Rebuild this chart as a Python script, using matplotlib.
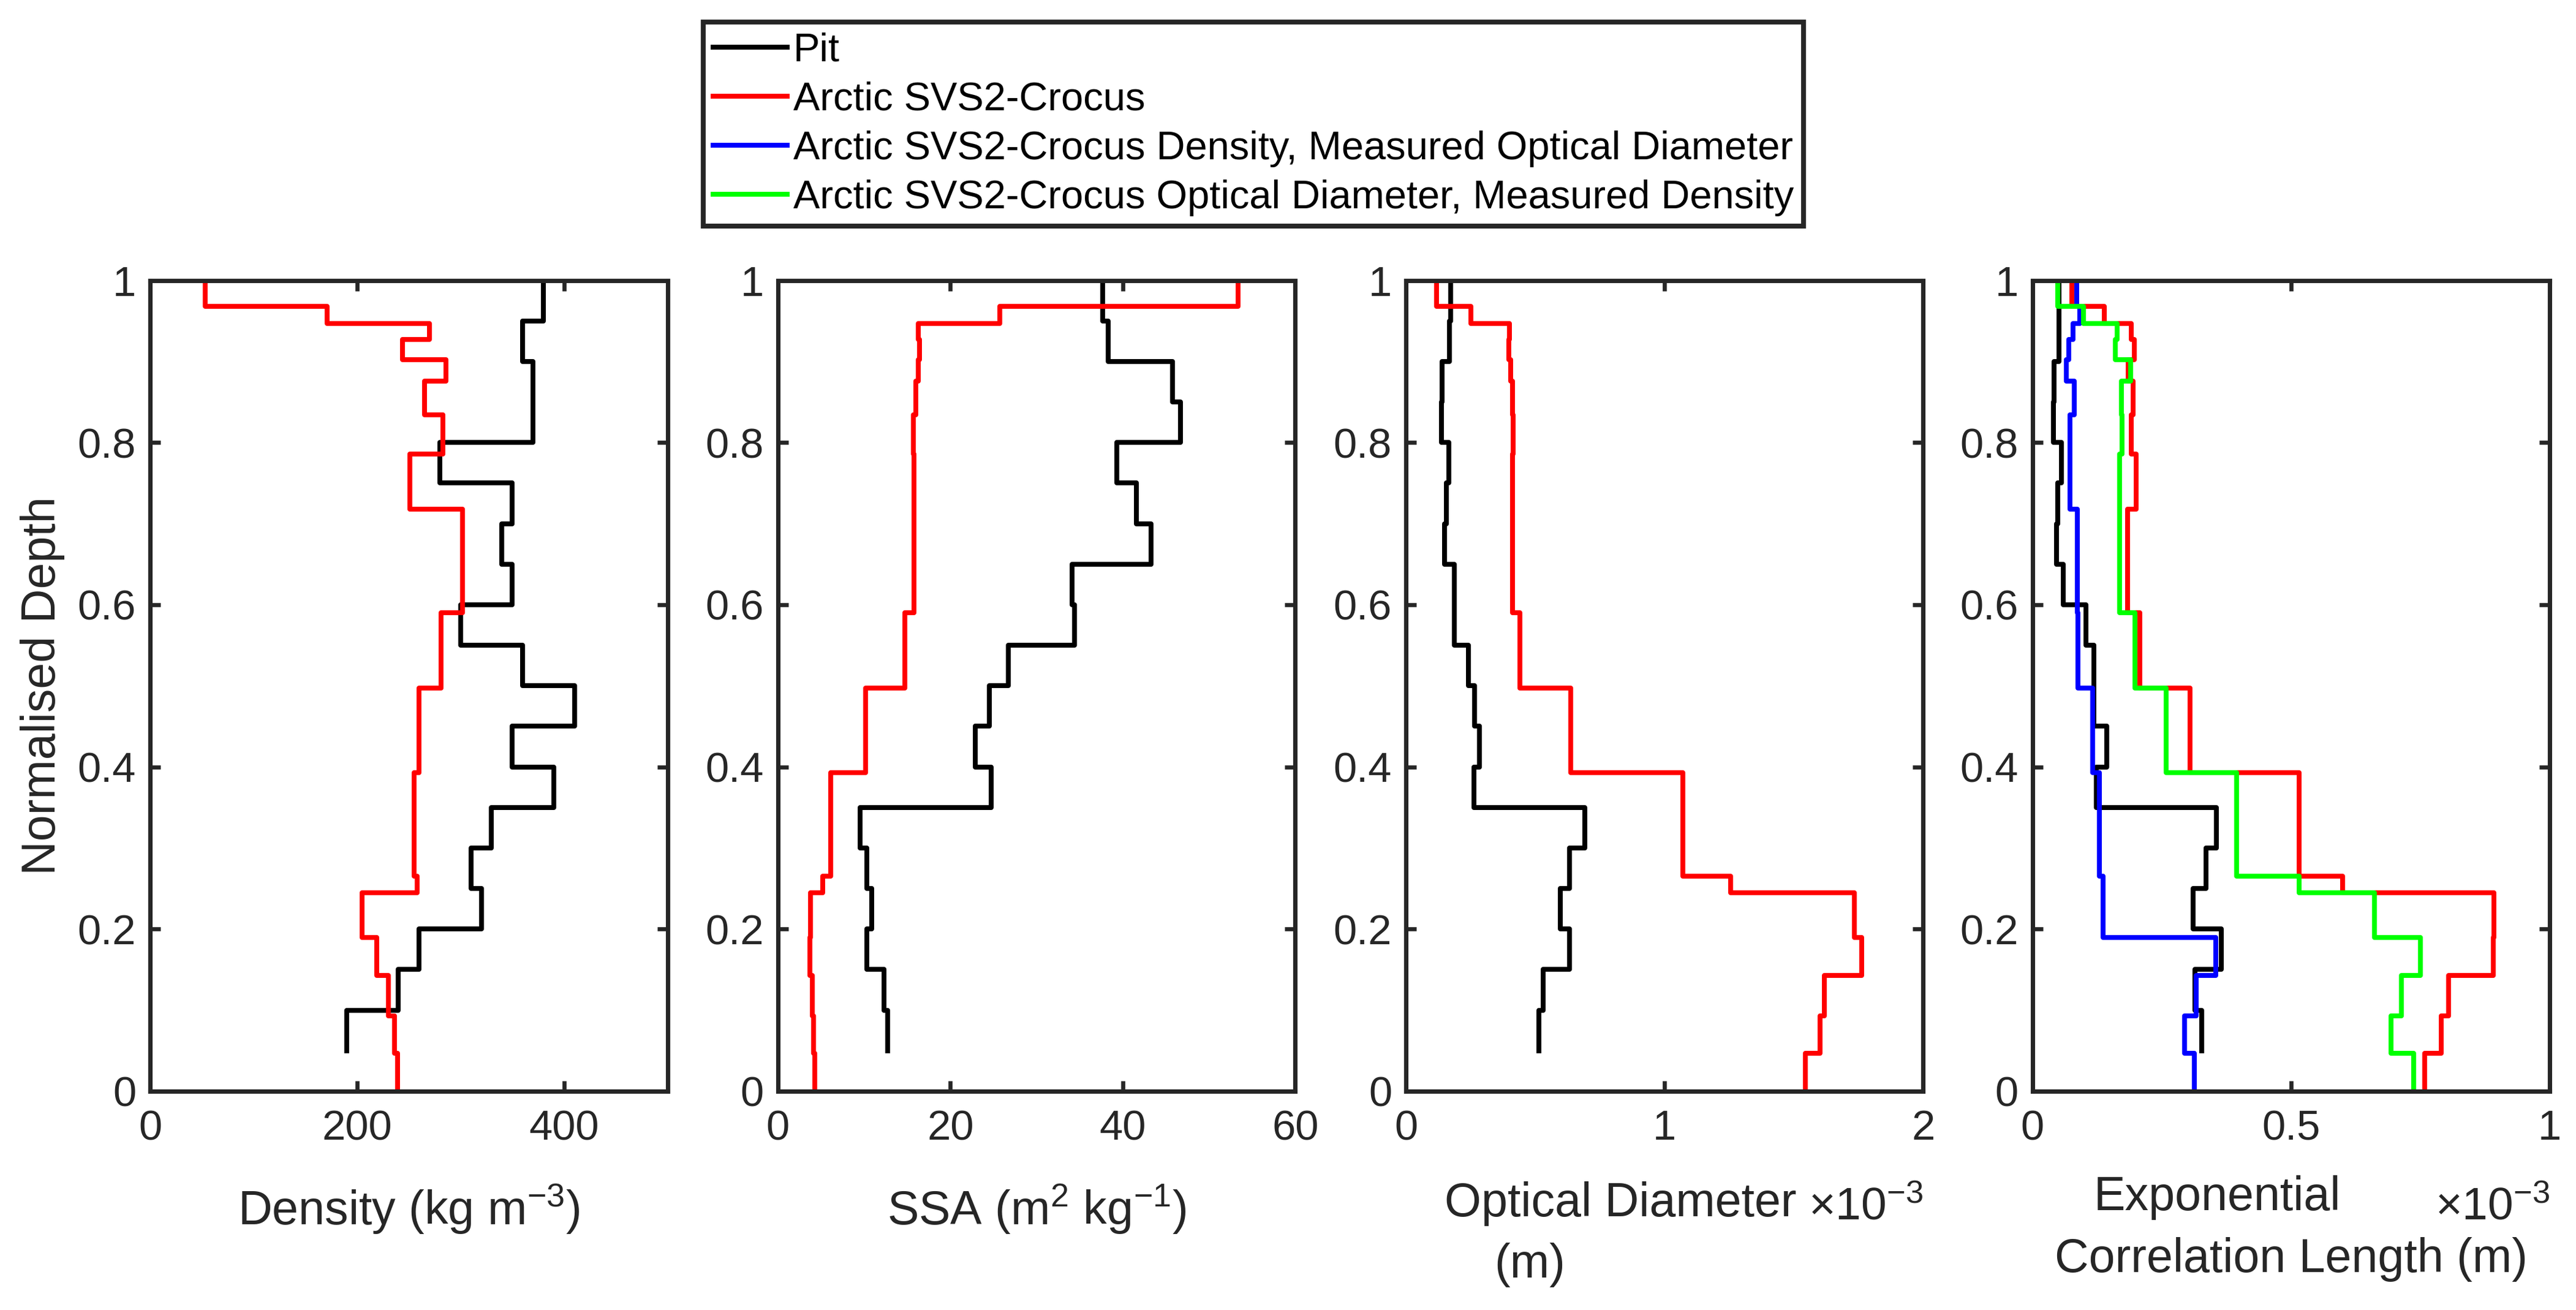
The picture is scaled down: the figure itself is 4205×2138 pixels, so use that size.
import numpy as np
import matplotlib.pyplot as plt
from matplotlib.lines import Line2D
from matplotlib.ticker import FormatStrFormatter

plt.rcParams['font.family'] = ['Liberation Sans', 'DejaVu Sans']
plt.rcParams['mathtext.fontset'] = 'custom'
plt.rcParams['mathtext.rm'] = 'Liberation Sans'
plt.rcParams['mathtext.it'] = 'Liberation Sans:italic'

# pit: boundary depths, first value is the surface point then one per layer
pit_depth = [1.0, 0.95, 0.9, 0.85, 0.8, 0.75, 0.7, 0.65, 0.6, 0.55,
             0.5, 0.45, 0.4, 0.35, 0.3, 0.25, 0.2, 0.15, 0.1, 0.05]
pit_density = [372, 380, 360, 370, 370, 280, 350, 340, 350, 300,
               360, 410, 350, 390, 330, 310, 320, 260, 240, 190]
pit_ssa = [47.8, 37.7, 38.3, 45.8, 46.7, 39.3, 41.6, 43.3, 34.1, 34.4,
           26.7, 24.5, 22.9, 24.7, 9.5, 10.3, 10.9, 10.3, 12.3, 12.7]
pit_dopt = [0.136, 0.172, 0.169, 0.139, 0.137, 0.165, 0.155, 0.148, 0.188, 0.188,
            0.242, 0.265, 0.284, 0.263, 0.692, 0.633, 0.597, 0.633, 0.531, 0.514]
pit_lex = [0.044, 0.051, 0.051, 0.042, 0.040, 0.056, 0.049, 0.047, 0.060, 0.103,
           0.119, 0.119, 0.144, 0.123, 0.356, 0.336, 0.311, 0.365, 0.314, 0.327]

# Arctic SVS2-Crocus: layer boundaries (top to bottom), one value per layer
crocus_depth = [1.0, 0.968, 0.947, 0.927, 0.902, 0.876, 0.834, 0.786, 0.718, 0.59,
                0.497, 0.393, 0.265, 0.245, 0.19, 0.143, 0.093, 0.047, 0.0]
crocus_density = [53, 171, 270, 244, 286, 265, 283, 251, 302, 281,
                  260, 255, 258, 205, 219, 230, 236, 239]
crocus_ssa = [53.4, 25.7, 16.3, 16.4, 16.3, 16.0, 15.7, 15.8, 15.8, 14.7,
              10.2, 6.1, 5.2, 3.75, 3.7, 4.0, 4.1, 4.25]
crocus_dopt = [0.119, 0.252, 0.401, 0.397, 0.404, 0.411, 0.415, 0.413, 0.411, 0.44,
               0.636, 1.07, 1.254, 1.733, 1.761, 1.618, 1.60, 1.544]
crocus_lex = [0.076, 0.139, 0.191, 0.197, 0.185, 0.195, 0.191, 0.201, 0.184, 0.207,
              0.305, 0.515, 0.600, 0.892, 0.891, 0.804, 0.790, 0.758]
crocus_lex_meas_dopt = [0.085, 0.092, 0.079, 0.070, 0.065, 0.081, 0.072, 0.0725, 0.087, 0.088,
                        0.116, 0.129, 0.136, 0.136, 0.354, 0.316, 0.294, 0.313]
crocus_lex_meas_dens = [0.049, 0.099, 0.164, 0.160, 0.190, 0.172, 0.173, 0.169, 0.169, 0.198,
                        0.258, 0.395, 0.515, 0.661, 0.750, 0.713, 0.693, 0.737]

legend_labels = ['Pit', 'Arctic SVS2-Crocus',
                 'Arctic SVS2-Crocus Density, Measured Optical Diameter',
                 'Arctic SVS2-Crocus Optical Diameter, Measured Density']

axc = '#262626'
lw = 1.9


def stairs(ax, values, depth, color):
    # same as matlab stairs(values, depth)
    values = list(values)
    if len(values) == len(depth) - 1:
        values = values[:1] + values
    ax.step(values, depth, where='post', color=color, lw=lw)


fig = plt.figure(figsize=(4205 / 300, 2138 / 300), dpi=300)
lefts = [0.0583, 0.302, 0.5458, 0.789]
axes = [fig.add_axes([l, 0.167, 0.2008, 0.619]) for l in lefts]

stairs(axes[0], pit_density, pit_depth, 'k')
stairs(axes[0], crocus_density, crocus_depth, 'r')
stairs(axes[1], pit_ssa, pit_depth, 'k')
stairs(axes[1], crocus_ssa, crocus_depth, 'r')
stairs(axes[2], pit_dopt, pit_depth, 'k')
stairs(axes[2], crocus_dopt, crocus_depth, 'r')
stairs(axes[3], pit_lex, pit_depth, 'k')
stairs(axes[3], crocus_lex, crocus_depth, 'r')
stairs(axes[3], crocus_lex_meas_dopt, crocus_depth, (0, 0, 1))
stairs(axes[3], crocus_lex_meas_dens, crocus_depth, (0, 1, 0))

xlims = [(0, 500), (0, 60), (0, 2), (0, 1)]
xticks = [[0, 200, 400], [0, 20, 40, 60], [0, 1, 2], [0, 0.5, 1]]
for ax, xl, xt in zip(axes, xlims, xticks):
    ax.set_xlim(xl)
    ax.set_ylim(0, 1)
    ax.set_xticks(xt)
    ax.set_yticks([0, 0.2, 0.4, 0.6, 0.8, 1])
    ax.xaxis.set_major_formatter(FormatStrFormatter('%g'))
    ax.yaxis.set_major_formatter(FormatStrFormatter('%g'))
    ax.tick_params(direction='in', top=True, right=True, length=4.0, width=1.6,
                   colors=axc, labelsize=16.5)
    ax.tick_params(axis='x', pad=7)
    ax.tick_params(axis='y', pad=5.5)
    for s in ax.spines.values():
        s.set_linewidth(1.7)
        s.set_color(axc)

lab = dict(ha='center', va='baseline', fontsize=18.5, color=axc)
axes[0].text(0.5, -0.165, 'Density (kg m$^{-3}$)', transform=axes[0].transAxes, **lab)
axes[1].text(0.5, -0.165, 'SSA (m$^{2}$ kg$^{-1}$)', transform=axes[1].transAxes, **lab)
axes[2].text(0.415, -0.154, 'Optical Diameter', transform=axes[2].transAxes, **lab)
axes[2].text(0.239, -0.230, '(m)', transform=axes[2].transAxes, **lab)
axes[3].text(0.357, -0.147, 'Exponential', transform=axes[3].transAxes, **lab)
axes[3].text(0.5, -0.223, 'Correlation Length (m)', transform=axes[3].transAxes, **lab)
for ax in axes[2:]:
    ax.text(1.0, -0.158, '×10$^{-3}$', transform=ax.transAxes, ha='right',
            va='baseline', fontsize=18, color=axc)

fig.text(0.0165, 0.4765, 'Normalised Depth', rotation=90, ha='center', va='center',
         fontsize=18.5, color=axc)

handles = [Line2D([], [], color=c, lw=lw) for c in ['k', 'r', (0, 0, 1), (0, 1, 0)]]
leg = fig.legend(handles, legend_labels, loc='upper left', bbox_to_anchor=(0.273, 0.983),
                 fontsize=15.6, fancybox=False, framealpha=1, edgecolor=axc,
                 borderpad=0.25, borderaxespad=0, handlelength=1.86,
                 handletextpad=0.15, labelspacing=0.31)
leg.get_frame().set_linewidth(1.9)

fig.savefig('out.png', dpi=300)
